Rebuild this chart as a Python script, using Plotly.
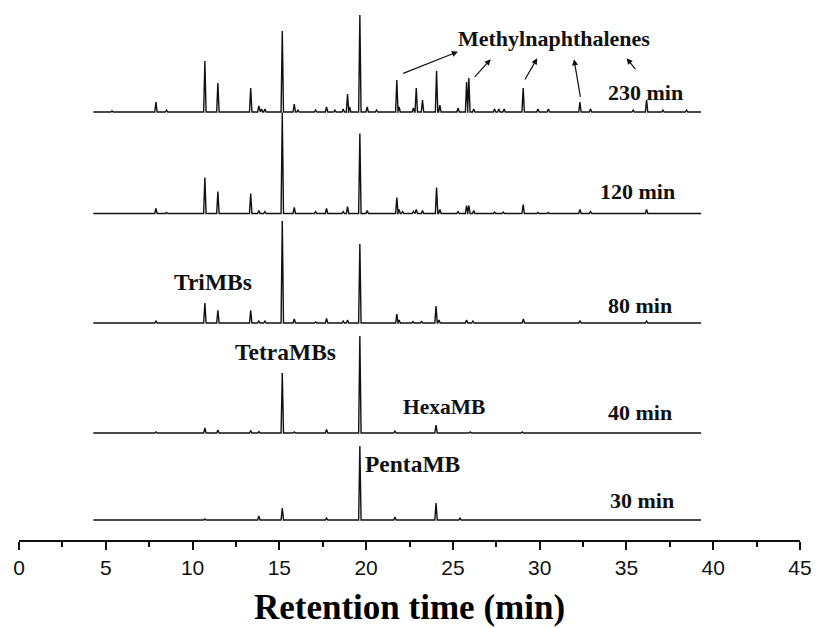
import plotly.graph_objects as go

# ---- data: peak retention times (min) and peak heights (arb. units) ----
LABELS = ["230 min", "120 min", "80 min", "40 min", "30 min"]
BASELINE_OFFSET = [428, 326.5, 217, 107, 20]
RUN_START = 4.28
RUN_END = 39.3

T230 = [5.36, 7.89, 8.5, 10.71, 11.46, 13.35, 13.82, 13.98, 14.17, 15.17, 15.86, 16.07,
        17.09, 17.72, 18.2, 18.68, 18.93, 19.05, 19.64, 20.06, 20.6, 21.77, 21.9, 22.72,
        22.89, 23.25, 24.06, 24.25, 25.3, 25.79, 25.92, 26.2, 27.4, 27.65, 27.95, 29.05,
        29.9, 30.5, 32.32, 32.93, 35.39, 36.16, 37.1, 38.46]
H230 = [1, 10, 2, 51, 29, 24, 6, 3, 3, 81, 8, 2,
        2, 5, 2, 3, 18, 5, 97, 5, 2, 32, 5, 4,
        24, 12, 41, 7, 4, 30, 34, 3, 3, 3, 3, 24,
        3, 3, 10, 3, 2, 12, 2, 2]

T120 = [7.89, 8.5, 10.71, 11.46, 13.35, 13.82, 14.17, 15.17, 15.86, 17.09, 17.72, 18.68,
        18.93, 19.64, 20.06, 21.77, 21.9, 22.1, 22.72, 22.89, 23.25, 24.06, 24.25, 25.3,
        25.79, 25.92, 26.2, 27.4, 27.9, 29.05, 29.9, 30.5, 32.32, 32.93, 36.16]
H120 = [5, 1, 36, 22, 20, 3, 2, 101, 6, 2, 5, 2,
        7, 80, 3, 16, 4, 2, 2, 4, 3, 26, 4, 2,
        8, 8, 3, 1.5, 1.5, 9, 1, 1, 4, 2, 4]

T80 = [7.89, 10.71, 11.46, 13.35, 13.82, 14.17, 15.17, 15.86, 17.09, 17.72, 18.68, 18.93,
       19.64, 21.77, 21.9, 22.7, 23.2, 24.03, 24.2, 25.79, 26.15, 29.06, 32.32, 36.16]
H80 = [2, 20, 12.6, 12.6, 2, 2, 102, 4, 1, 4.6, 2, 3,
       79, 9, 3, 1.5, 1.5, 17, 3, 3, 2, 4, 2, 2]

T40 = [7.89, 10.71, 11.46, 13.35, 13.82, 15.17, 15.86, 17.72, 19.64, 21.66, 24.03, 26.0, 29.0]
H40 = [1, 5, 3, 2.5, 1.5, 60, 1, 3.5, 97, 2, 8, 1, 1]

T30 = [10.71, 13.82, 15.17, 17.72, 19.64, 21.66, 24.03, 25.41]
H30 = [1, 4, 12, 2, 74, 3, 17, 2]

PEAK_TIMES = [T230, T120, T80, T40, T30]
PEAK_HEIGHTS = [H230, H120, H80, H40, H30]

X_TICKS = [0, 5, 10, 15, 20, 25, 30, 35, 40, 45]

HALF_WIDTH = 0.07
SERIF = "Liberation Serif, Times New Roman, serif"


def trace_points(times, heights, offset):
    xs, ys = [RUN_START], [offset]
    for t, h in sorted(zip(times, heights)):
        xs += [t - HALF_WIDTH, t, t + HALF_WIDTH]
        ys += [offset, offset + h, offset]
    xs.append(RUN_END)
    ys.append(offset)
    return xs, ys


fig = go.Figure()
for lab, ts, hs, off in zip(LABELS, PEAK_TIMES, PEAK_HEIGHTS, BASELINE_OFFSET):
    xs, ys = trace_points(ts, hs, off)
    fig.add_trace(go.Scatter(x=xs, y=ys, mode="lines", name=lab,
                             line=dict(color="#111111", width=1.4), showlegend=False))

ann = []
# time labels
LABEL_POS = [(36.07, 448), (35.61, 349), (35.78, 235), (35.78, 128), (35.9, 40)]
for lab, (x, y) in zip(LABELS, LABEL_POS):
    ann.append(dict(x=x, y=y, text=lab, showarrow=False, xref="x", yref="y",
                    font=dict(family=SERIF, size=22, color="#111111", weight="bold")))

COMPOUNDS = [("Methylnaphthalenes", 30.8, 502, 22), ("TriMBs", 11.18, 258, 23.5),
             ("TetraMBs", 15.36, 188, 23.5), ("HexaMB", 24.46, 133, 21.5),
             ("PentaMB", 22.7, 76, 23.5)]
for txt, x, y, s in COMPOUNDS:
    ann.append(dict(x=x, y=y, text=txt, showarrow=False, xref="x", yref="y",
                    font=dict(family=SERIF, size=s, color="#111111", weight="bold")))

# arrows (head near text, tail near peak)
ARROWS = [((25.29, 488.3), (22.05, 466)), ((27.18, 480.7), (26.18, 461.7)),
          ((29.86, 481.7), (29.10, 459)), ((31.98, 480.7), (32.36, 441.7)),
          ((35.01, 481.7), (35.59, 469.3))]
for (hx, hy), (tx, ty) in ARROWS:
    ann.append(dict(x=hx, y=hy, ax=tx, ay=ty, xref="x", yref="y", axref="x", ayref="y",
                    text="", showarrow=True, arrowhead=2, arrowsize=1, arrowwidth=1.2,
                    arrowcolor="#111111"))

# axis title (paper coordinates so it is not hidden outside the y range)
ann.append(dict(x=0.5, y=-67 / 540, xref="paper", yref="paper", text="Retention time (min)",
                showarrow=False, xanchor="center", yanchor="middle",
                font=dict(family=SERIF, size=35, color="#000000", weight="bold")))

fig.update_layout(
    width=816, height=628,
    margin=dict(l=19, r=16, t=0, b=88),
    paper_bgcolor="white", plot_bgcolor="white",
    annotations=ann,
    xaxis=dict(range=[0, 45], tickvals=X_TICKS, showgrid=False, zeroline=False,
               showline=True, linecolor="#111111", linewidth=1.5,
               ticks="outside", ticklen=8, tickwidth=1.5, tickcolor="#111111",
               minor=dict(dtick=2.5, tick0=0, ticks="outside", ticklen=5, tickwidth=1.5,
                          tickcolor="#111111", showgrid=False),
               tickfont=dict(family="Liberation Sans, Arial, sans-serif", size=21,
                             color="#111111")),
    yaxis=dict(range=[0, 540], visible=False, showgrid=False, zeroline=False),
)

fig.write_html("out.html")
